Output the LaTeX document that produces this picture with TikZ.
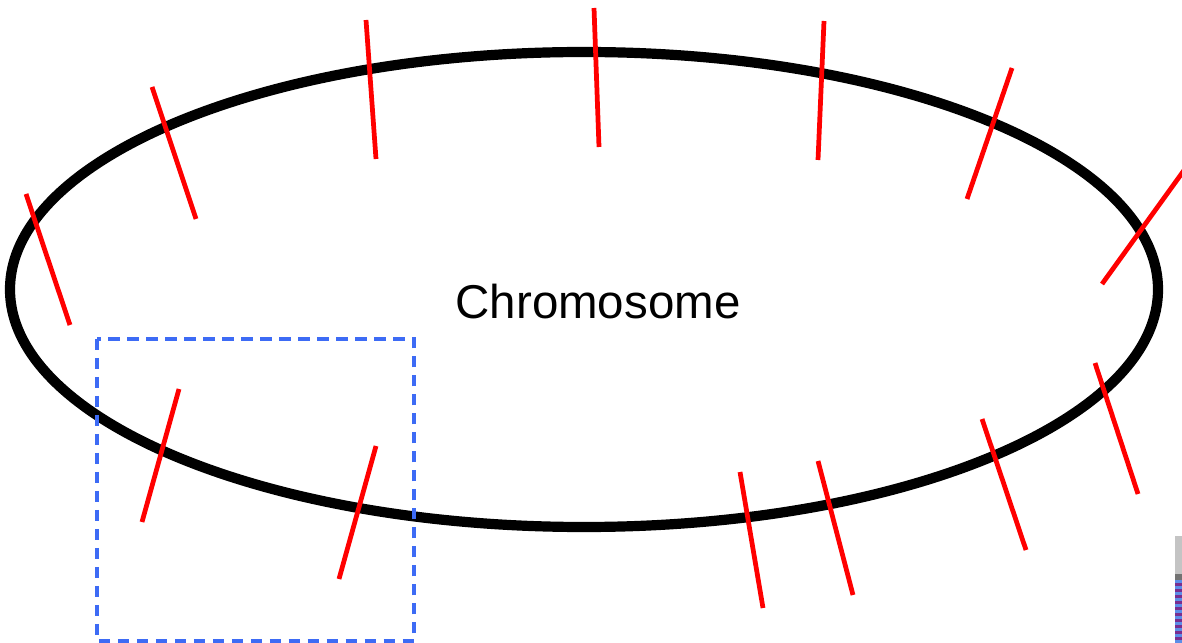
\documentclass[tikz,border=0pt]{standalone}
\usepackage{xcolor}
\usepackage{fontspec}
\setmainfont{Liberation Sans}
\usepackage{tikz}
\usetikzlibrary{positioning}
\definecolor{markred}{HTML}{FF0000}
\definecolor{boxblue}{HTML}{3D6BF5}
\definecolor{stripgray}{HTML}{C4C4C4}
\definecolor{stripblue}{HTML}{5C8EE8}
\definecolor{strippurple}{HTML}{7A2E8F}

\begin{document}
\begin{tikzpicture}[x={(0.01cm,0)}, y={(0,-0.01cm)},
    ring/.style={draw=black, line width=2.9pt},
    marker/.style={draw=markred, line width=1.35pt},
    zoombox/.style={draw=boxblue, line width=0.9pt, dash pattern=on 3.2pt off 2.2pt}]
  \useasboundingbox (0,0) rectangle (1182,643);
  \begin{scope}
    \clip (0,0) rectangle (1182,643);
    % chromosome ring
    \draw[ring] (584,289.5) ellipse [x radius=574, y radius=237.5];
    \node[font=\fontsize{13.5pt}{16pt}\selectfont] (label) at (598,302) {Chromosome};
    % markers
    \foreach \xa/\ya/\xb/\yb in {152/87/196/219, 366/20/376/159, 594/8/599/147,
        824/21/818/160, 1012/68/967/199, 1190/162/1102/284, 26/194/70/325,
        179/389/142/522, 376/446/339/579, 740/472/763/608, 818/461/853/595,
        982/419/1026/550, 1095/363/1138/494}
      \draw[marker] (\xa,\ya) -- (\xb,\yb);
    % zoomed region
    \draw[zoombox] (97,339) rectangle (414,641);
    % edge strip
    \fill[stripgray] (1175,536) rectangle (1182,574);
    \fill[black!55] (1175,574) rectangle (1182,580);
    \foreach \k in {0,...,10}
      \fill[stripblue] (1175,580+6*\k) rectangle (1182,583+6*\k);
    \foreach \k in {0,...,10}
      \fill[strippurple] (1175,583+6*\k) rectangle (1182,586+6*\k);
  \end{scope}
\end{tikzpicture}
\end{document}
